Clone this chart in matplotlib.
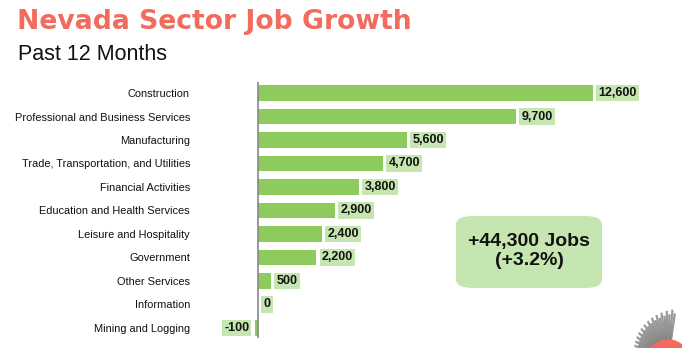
import matplotlib
matplotlib.use("Agg")
import matplotlib.pyplot as plt
import numpy as np
from matplotlib.patches import FancyBboxPatch, Circle
from matplotlib import font_manager

categories = ["Construction", "Professional and Business Services", "Manufacturing",
              "Trade, Transportation, and Utilities", "Financial Activities",
              "Education and Health Services", "Leisure and Hospitality", "Government",
              "Other Services", "Information", "Mining and Logging"]
values = [12600, 9700, 5600, 4700, 3800, 2900, 2400, 2200, 500, 0, -100]
value_labels = ["12,600", "9,700", "5,600", "4,700", "3,800", "2,900", "2,400",
                "2,200", "500", "0", "-100"]

names = {f.name for f in font_manager.fontManager.ttflist}
narrow = "Liberation Sans Narrow" if "Liberation Sans Narrow" in names else "Liberation Sans"
narrow_size = 11 if narrow == "Liberation Sans Narrow" else 9

W, H = 682, 348
fig = plt.figure(figsize=(W/100, H/100), dpi=100)

# decorative overlay in pixel coordinates
deco = fig.add_axes([0, 0, 1, 1])
deco.set_xlim(0, W)
deco.set_ylim(H, 0)
deco.axis("off")
cx, cy, r = 668, 362, 22
for i, ang in enumerate(np.linspace(82, 160, 26)):
    a = np.deg2rad(ang)
    L = r + 10 + (160 - ang) * 0.22 + (4 if i % 2 else 0)
    deco.plot([cx + r*np.cos(a), cx + L*np.cos(a)], [cy - r*np.sin(a), cy - L*np.sin(a)],
              color="#777777", lw=1.6, alpha=0.75, solid_capstyle="butt")
deco.add_patch(Circle((cx, cy), r, color="#f26b5c", zorder=3))

# main axes spans px 240..660 horizontally, 82..338 vertically
ax = fig.add_axes([240/W, 1-338/H, 420/W, 256/H])
ax.patch.set_alpha(0)
scale = 335/12600.0
ax.set_xlim(-18/scale, (660-258)/scale)
ax.set_ylim(10.43, -0.47)

bar_color = "#8dcb5c"
lab_bg = "#c6e6b1"
ypos = list(range(len(categories)))
ax.barh(ypos, values, height=0.66, color=bar_color, zorder=2)
ax.axvline(0, color="#888888", lw=1.2, zorder=3)

for s in ax.spines.values():
    s.set_visible(False)
ax.set_xticks([])
ax.set_yticks(ypos)
ax.set_yticklabels(categories, fontsize=7.9, family="Liberation Sans", color="#111111")
ax.tick_params(axis="y", length=0, pad=36)

for y, v, t in zip(ypos, values, value_labels):
    if v >= 0:
        x, ha = v + 200, "left"
    else:
        x, ha = v - 230, "right"
    ax.text(x, y, t, ha=ha, va="center", fontsize=narrow_size, fontweight="bold",
            family=narrow, color="#111111",
            bbox=dict(boxstyle="square,pad=0.18", fc=lab_bg, ec="none"), zorder=4, clip_on=False)

# summary box
box = FancyBboxPatch((456/W, 1-288/H), 146/W, 72/H,
                     boxstyle="round,pad=0,rounding_size=0.025",
                     transform=fig.transFigure, fc=lab_bg, ec="none")
fig.patches.append(box)
fig.text(529/W, 1-251/H, "+44,300 Jobs\n(+3.2%)", ha="center", va="center",
         fontsize=14, fontweight="bold", family=narrow if narrow_size == 11 else "Liberation Sans",
         color="#111111", linespacing=1.2)

fig.text(17/W, 1-29/H, "Nevada Sector Job Growth", ha="left", va="baseline",
         fontsize=19.2, fontweight="bold", family="DejaVu Sans", color="#f26b5c")
fig.text(18/W, 1-60/H, "Past 12 Months", ha="left", va="baseline",
         fontsize=15.5, family="Liberation Sans", color="#111111")

fig.savefig("out.png", dpi=100)
